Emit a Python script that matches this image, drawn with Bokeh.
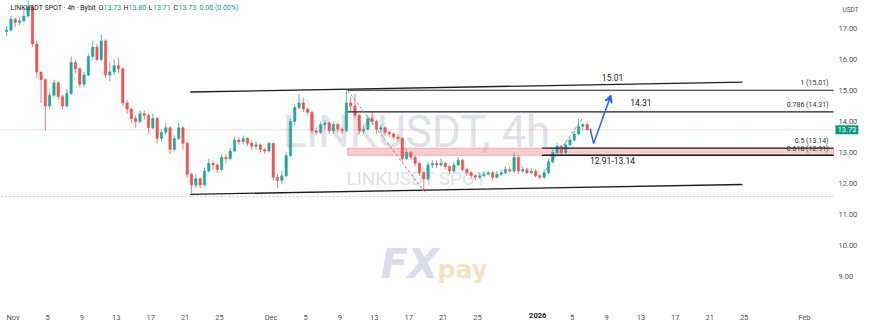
from bokeh.plotting import figure
from bokeh.models import (Range1d, FixedTicker, Label, Arrow, VeeHead,
                          PrintfTickFormatter, ColumnDataSource)
from bokeh.embed import file_html
from bokeh.resources import INLINE

# ---------------- data (days since 1 Nov 2025, price in USDT) ----------------
first_open = 16.9
start_day = -0.75
step_days = 0.5

closes = [16.95, 17.3, 17.2, 17.25, 17.4, 17.7, 16.5, 15.6, 15.35, 14.5,
          14.85, 15.25, 14.8, 14.5, 14.9, 15.9, 15.7, 15.2, 15.5, 16.1,
          16.4, 16.0, 16.6, 15.5, 15.6, 15.8, 15.7, 14.6, 14.4, 14.1,
          14.0, 14.25, 14.2, 13.8, 14.1, 13.45, 13.65, 13.8, 13.1, 13.45,
          13.8, 13.3, 12.3, 11.95, 12.15, 11.95, 12.4, 12.65, 12.6, 12.45,
          12.85, 12.8, 13.05, 13.4, 13.35, 13.45, 13.3, 13.2, 13.25, 13.1,
          13.05, 13.3, 12.2, 12.1, 12.25, 12.9, 14.0, 14.45, 14.6, 14.4,
          14.3, 13.7, 13.65, 13.9, 13.95, 13.7, 13.9, 13.75, 13.7, 14.6,
          14.5, 14.2, 13.7, 13.75, 14.1, 14.0, 13.75, 13.8, 13.65, 13.6,
          13.5, 13.45, 12.8, 13.0, 12.85, 12.65, 12.35, 12.15, 12.6, 12.65,
          12.6, 12.65, 12.55, 12.4, 12.6, 12.75, 12.45, 12.35, 12.25, 12.2,
          12.25, 12.3, 12.35, 12.2, 12.3, 12.35, 12.45, 12.4, 12.85, 12.4,
          12.45, 12.35, 12.4, 12.25, 12.2, 12.35, 12.7, 13.0, 13.2, 13.0,
          13.25, 13.4, 13.6, 13.85, 13.9, 13.73]

highs = [17.1, 17.4, 17.35, 17.35, 17.65, 17.9, 17.75, 16.6, 15.6, 15.4,
         14.95, 15.35, 15.3, 14.85, 15.05, 16.1, 16.0, 15.75, 15.6, 16.2,
         16.6, 16.5, 16.8, 16.65, 15.9, 16.0, 16.05, 15.75, 14.7, 14.45,
         14.2, 14.35, 14.35, 14.25, 14.25, 14.15, 13.75, 13.95, 13.85, 13.55,
         13.95, 13.85, 13.35, 12.35, 12.3, 12.2, 12.5, 12.8, 12.75, 12.65,
         12.95, 12.95, 13.15, 13.5, 13.5, 13.55, 13.5, 13.4, 13.35, 13.3,
         13.15, 13.35, 13.3, 12.3, 12.4, 13.0, 14.1, 14.55, 14.9, 14.75,
         14.45, 14.35, 13.8, 14.0, 14.05, 14.0, 14.0, 13.95, 13.8, 15.01,
         14.8, 14.9, 14.25, 13.85, 14.2, 14.3, 14.05, 13.9, 13.85, 13.7,
         13.65, 13.6, 13.5, 13.1, 13.05, 12.9, 12.7, 12.4, 12.7, 12.75,
         12.75, 12.8, 12.7, 12.6, 12.7, 12.85, 12.8, 12.5, 12.4, 12.3,
         12.35, 12.4, 12.4, 12.4, 12.4, 12.45, 12.55, 12.55, 13.0, 12.9,
         12.55, 12.5, 12.5, 12.45, 12.3, 12.45, 12.8, 13.1, 13.3, 13.25,
         13.35, 13.5, 13.7, 14.1, 13.95, 13.95]

lows = [16.75, 16.9, 17.05, 17.1, 17.2, 17.35, 16.4, 15.4, 14.6, 13.7,
        14.4, 14.8, 14.7, 14.4, 14.45, 14.85, 15.55, 15.1, 15.1, 15.45,
        16.0, 15.95, 15.95, 15.4, 15.3, 15.5, 15.55, 14.5, 14.25, 13.95,
        13.8, 13.95, 14.05, 13.6, 13.75, 13.3, 13.35, 13.55, 12.95, 13.05,
        13.4, 13.1, 12.2, 11.68, 11.85, 11.85, 11.9, 12.35, 12.45, 12.35,
        12.4, 12.65, 12.75, 13.0, 13.25, 13.25, 13.2, 13.1, 13.1, 13.0,
        12.95, 13.0, 12.1, 11.85, 12.0, 12.2, 12.85, 13.9, 14.4, 14.3,
        14.2, 13.6, 13.55, 13.6, 13.75, 13.6, 13.6, 13.65, 13.6, 13.65,
        14.3, 14.1, 13.6, 13.6, 13.7, 13.9, 13.6, 13.65, 13.55, 13.5,
        13.4, 13.35, 12.7, 12.75, 12.75, 12.55, 12.25, 11.8, 12.1, 12.5,
        12.5, 12.55, 12.45, 12.3, 12.35, 12.55, 12.4, 12.25, 12.15, 12.1,
        12.15, 12.2, 12.25, 12.1, 12.15, 12.25, 12.3, 12.35, 12.35, 12.3,
        12.35, 12.3, 12.3, 12.2, 12.15, 12.15, 12.3, 12.65, 12.95, 12.9,
        12.95, 13.2, 13.35, 13.55, 13.7, 13.7]

tick_days = [0, 4, 8, 12, 16, 20, 24, 30, 34, 38, 42, 46, 50, 54,
             61, 65, 69, 73, 77, 81, 85, 92]
tick_labels = ["Nov", "5", "9", "13", "17", "21", "25", "Dec", "5", "9", "13",
               "17", "21", "25", "2026", "5", "9", "13", "17", "21", "25", "Feb"]
price_ticks = [9, 10, 11, 12, 13, 14, 15, 16, 17]

last_price = 13.73
range_low_level = 11.58

# drawing annotations (days, price)
channel_top_days = [20.6, 84.8]
channel_top_prices = [14.95, 15.27]
channel_bot_days = [20.6, 84.8]
channel_bot_prices = [11.65, 11.97]

fib_start_day = 38.9
zone_line_start_day = 61.5
fib_levels = [15.01, 14.31]
fib_level_texts = ["1 (15.01)", "0.786 (14.31)"]
zone_low, zone_high = 12.91, 13.14
zone_texts = ["0.5 (13.14)", "0.618 (12.91)"]

dash1_days = [38.9, 47.9]
dash1_prices = [15.0, 11.71]
dash2_days = [61.9, 66.2]
dash2_prices = [12.42, 14.1]

arrow_days = [67.1, 67.5, 69.5]
arrow_prices = [13.77, 13.29, 14.84]

# ---------------- figure ----------------
# frame covers the chart pane plus the scale strips, so that the price tag,
# the currency caption and the bold year can be drawn next to the axes
X0, X1 = -1.465, 98.53      # frame 0..860 px
PANE_END = 95.4             # right edge of the chart pane (x = 833 px)
Y0, Y1 = 7.452, 17.903      # frame 0..324 px

p = figure(width=870, height=326, output_backend="svg", toolbar_location=None,
           x_range=Range1d(X0, X1), y_range=Range1d(Y0, Y1),
           y_axis_location="right", min_border_left=0, min_border_top=0,
           min_border_right=10, min_border_bottom=2)
p.outline_line_color = None
p.background_fill_color = "white"
p.border_fill_color = "white"
p.grid.grid_line_color = None

FONT = "Roboto"
AXC = "#50535e"

xa = p.xaxis[0]
xa.ticker = FixedTicker(ticks=tick_days)
xa.major_label_overrides = {d: ("" if lab == "2026" else lab)
                            for d, lab in zip(tick_days, tick_labels)}
xa.major_tick_in = 0
xa.major_tick_out = 0
xa.minor_tick_in = 0
xa.minor_tick_out = 0
xa.axis_line_color = None
xa.major_label_text_font = FONT
xa.major_label_text_font_size = "7.5px"
xa.major_label_text_color = AXC
xa.major_label_standoff = -12

ya = p.yaxis[0]
ya.ticker = FixedTicker(ticks=price_ticks)
ya.formatter = PrintfTickFormatter(format="%.2f")
ya.major_tick_in = 0
ya.major_tick_out = 0
ya.minor_tick_in = 0
ya.minor_tick_out = 0
ya.axis_line_color = None
ya.major_label_text_font = FONT
ya.major_label_text_font_size = "7.5px"
ya.major_label_text_color = AXC
ya.major_label_standoff = -22

# watermark
p.add_layout(Label(x=416, y=193, x_units="screen", y_units="screen",
                   text="LINKUSDT, 4h", text_font=FONT, text_font_size="44px",
                   text_color="#e1e2e7", text_align="center", text_baseline="middle",
                   level="underlay"))
p.add_layout(Label(x=416, y=146, x_units="screen", y_units="screen",
                   text="LINKUSDT SPOT", text_font=FONT, text_font_size="19px",
                   text_color="#e1e2e7", text_align="center", text_baseline="middle",
                   level="underlay"))
p.add_layout(Label(x=380, y=61, x_units="screen", y_units="screen",
                   text="FX", text_font="DejaVu Sans", text_font_size="40px",
                   text_font_style="bold italic", text_color="#dcdcee",
                   text_align="left", text_baseline="middle", level="underlay"))
p.add_layout(Label(x=437, y=55, x_units="screen", y_units="screen",
                   text="pay", text_font="DejaVu Sans", text_font_size="25px",
                   text_font_style="bold", text_color="#f6e2c4",
                   text_align="left", text_baseline="middle", level="underlay"))

# reference lines
p.line([X0, PANE_END], [range_low_level, range_low_level], line_color="#c9cbd1",
       line_width=1, line_dash="2 2")
p.line([X0, PANE_END], [last_price, last_price], line_color="#f28b95",
       line_width=1, line_dash="1 2", line_alpha=0.8)

# zone
p.quad(left=[fib_start_day], right=[PANE_END], bottom=[zone_low], top=[zone_high],
       fill_color="#f4a3ab", fill_alpha=0.55, line_color="#ee8c96", line_alpha=0.6)

# candles
n = len(closes)
opens = [first_open] + closes[:-1]
days = [start_day + step_days * i for i in range(n)]
up_col, dn_col = "#26a69a", "#ef5350"
colors = [up_col if c >= o else dn_col for o, c in zip(opens, closes)]
src = ColumnDataSource(dict(x=days, o=opens, c=closes,
                            h=[max(h, o, c) for h, o, c in zip(highs, opens, closes)],
                            l=[min(l, o, c) for l, o, c in zip(lows, opens, closes)],
                            col=colors))
p.segment(x0="x", x1="x", y0="h", y1="l", color="col", line_width=1,
          line_alpha=0.75, source=src)
p.vbar(x="x", width=0.28, top="o", bottom="c", fill_color="col", line_color="col",
       line_width=0.5, source=src)

# channel
p.line(channel_top_days, channel_top_prices, line_color="#1e1e1e", line_width=1.4)
p.line(channel_bot_days, channel_bot_prices, line_color="#1e1e1e", line_width=1.4)

# fib lines
for lvl in fib_levels:
    p.line([fib_start_day, PANE_END], [lvl, lvl], line_color="#1e1e1e", line_width=1.1)
for lvl in (zone_low, zone_high):
    p.line([zone_line_start_day, PANE_END], [lvl, lvl], line_color="#1e1e1e", line_width=1.4)

# dashed trend guides
p.line(dash1_days, dash1_prices, line_color="#8a8d96", line_width=1, line_dash="3 2")
p.line(dash2_days, dash2_prices, line_color="#8a8d96", line_width=1, line_dash="3 2")

# blue path arrow
p.line(arrow_days[:2], arrow_prices[:2], line_color="#2962ff", line_width=1.5)
p.add_layout(Arrow(end=VeeHead(size=7, line_color="#2962ff", line_width=1.5),
                   x_start=arrow_days[1], y_start=arrow_prices[1],
                   x_end=arrow_days[2], y_end=arrow_prices[2],
                   line_color="#2962ff", line_width=1.5))

# level texts
TXT = "#131722"
p.add_layout(Label(x=69.7, y=15.42, text="15.01", text_font=FONT,
                   text_font_size="8.5px", text_color=TXT, text_align="center",
                   text_baseline="middle"))
p.add_layout(Label(x=73.0, y=14.62, text="14.31", text_font=FONT,
                   text_font_size="8.5px", text_color=TXT, text_align="center",
                   text_baseline="middle"))
p.add_layout(Label(x=69.7, y=12.74, text=f"{zone_low}-{zone_high}", text_font=FONT,
                   text_font_size="8.5px", text_color=TXT, text_align="center",
                   text_baseline="middle"))

for lvl, t in zip(fib_levels, fib_level_texts):
    p.add_layout(Label(x=828, y=lvl, x_units="screen", y_offset=3, text=t,
                       text_font=FONT, text_font_size="7px", text_color="#2a2e39",
                       text_align="right", text_baseline="bottom"))
p.add_layout(Label(x=828, y=zone_high, x_units="screen", y_offset=3, text=zone_texts[0],
                   text_font=FONT, text_font_size="7px", text_color="#2a2e39",
                   text_align="right", text_baseline="bottom"))
p.add_layout(Label(x=828, y=zone_low, x_units="screen", y_offset=2, text=zone_texts[1],
                   text_font=FONT, text_font_size="7px", text_color="#2a2e39",
                   text_align="right", text_baseline="bottom"))

# header
HY = 317
HFS = "7px"
p.add_layout(Label(x=10, y=HY, x_units="screen", y_units="screen",
                   text="LINKUSDT SPOT · 4h · Bybit", text_font=FONT,
                   text_font_size=HFS, text_color="#131722", text_baseline="middle"))
hdr = [("O", 98), ("13.73", 103), ("H", 123), ("13.80", 128), ("L", 148),
       ("13.71", 152.5), ("C", 173), ("13.73", 178), ("0.00 (0.00%)", 199)]
for t, xx in hdr:
    col = "#131722" if t in ("O", "H", "L", "C") else "#089981"
    p.add_layout(Label(x=xx, y=HY, x_units="screen", y_units="screen", text=t,
                       text_font=FONT, text_font_size=HFS, text_color=col,
                       text_baseline="middle"))

# bold year on the time scale
for d, lab in zip(tick_days, tick_labels):
    if lab == "2026":
        p.add_layout(Label(x=d, y=12, y_units="screen", text=lab,
                           text_font=FONT, text_font_size="7.5px",
                           text_font_style="bold", text_color="#131722",
                           text_align="center", text_baseline="top"))

# price scale caption and last-price tag
p.add_layout(Label(x=842, y=315, x_units="screen", y_units="screen",
                   text="USDT", text_font=FONT, text_font_size="6.5px",
                   text_color=AXC, text_baseline="middle"))
p.add_layout(Label(x=835, y=last_price, x_units="screen",
                   text=f"{last_price:.2f}", text_font=FONT,
                   text_font_size="7.5px", text_color="white",
                   text_baseline="middle", background_fill_color="#089981",
                   padding=2))

open("out.html", "w").write(file_html(p, INLINE))
